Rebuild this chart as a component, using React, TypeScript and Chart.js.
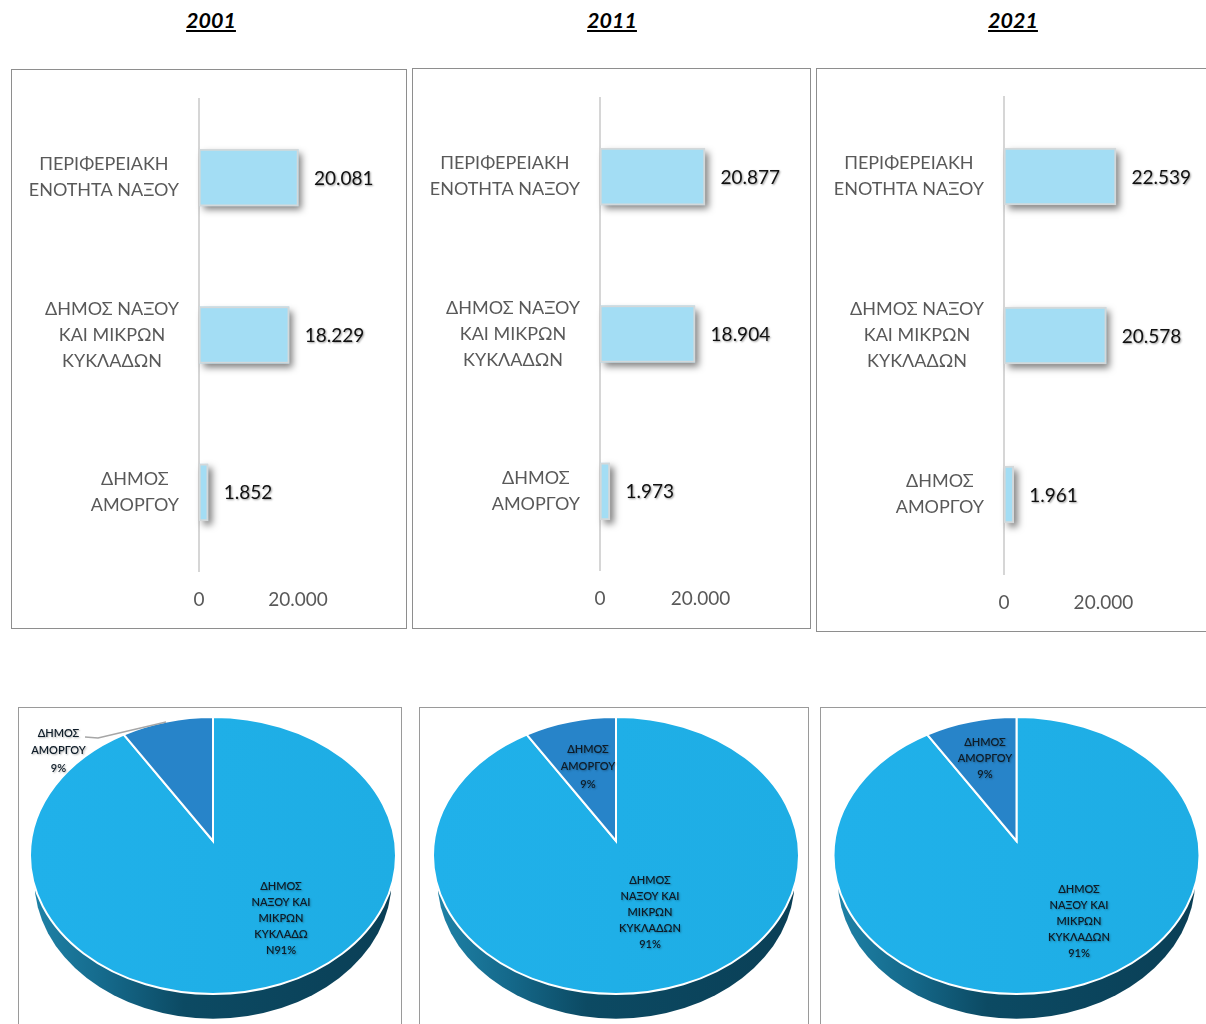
import React, { useEffect, useRef } from "react";
import { Chart, registerables } from "chart.js";

Chart.register(...registerables);

// ---- data ----
const years = ["2001", "2011", "2021"];
const barCategories = [
  ["ΠΕΡΙΦΕΡΕΙΑΚΗ", "ΕΝΟΤΗΤΑ ΝΑΞΟΥ"],
  ["ΔΗΜΟΣ ΝΑΞΟΥ", "ΚΑΙ ΜΙΚΡΩΝ", "ΚΥΚΛΑΔΩΝ"],
  ["ΔΗΜΟΣ", "ΑΜΟΡΓΟΥ"],
];
const population2001 = [20081, 18229, 1852];
const population2011 = [20877, 18904, 1973];
const population2021 = [22539, 20578, 1961];
const axisTicks = [0, 20000];
const pieNames = ["ΔΗΜΟΣ ΝΑΞΟΥ ΚΑΙ ΜΙΚΡΩΝ ΚΥΚΛΑΔΩΝ", "ΔΗΜΟΣ ΑΜΟΡΓΟΥ"];
const shares2001 = [91, 9];
const shares2011 = [91, 9];
const shares2021 = [91, 9];
const bigLabel2001 = ["ΔΗΜΟΣ", "ΝΑΞΟΥ ΚΑΙ", "ΜΙΚΡΩΝ", "ΚΥΚΛΑΔΩ", "Ν91%"];
const bigLabelOther = ["ΔΗΜΟΣ", "ΝΑΞΟΥ ΚΑΙ", "ΜΙΚΡΩΝ", "ΚΥΚΛΑΔΩΝ", "91%"];
const smallLabel = ["ΔΗΜΟΣ", "ΑΜΟΡΓΟΥ", "9%"];

// ---- layout ----
const FONT = "Lato, 'Open Sans', sans-serif";
const barLayouts = [
  { left: 11, top: 69, w: 396, h: 560, axisX: 199, plotTop: 99, plotBottom: 571, unit: 99, tickY: 598, values: population2001 },
  { left: 412, top: 68, w: 399, h: 561, axisX: 600, plotTop: 98, plotBottom: 570, unit: 100.6, tickY: 598, values: population2011 },
  { left: 816, top: 68, w: 400, h: 564, axisX: 1004, plotTop: 97, plotBottom: 574, unit: 99.4, tickY: 601, values: population2021 },
];
const pieLayouts = [
  { left: 18, top: 707, w: 384, cx: 213, values: shares2001, big: bigLabel2001, bigX: 281, bigY: 886, smallX: 58.5, smallY: 733, smallStep: 17.5, leader: true },
  { left: 419, top: 707, w: 390, cx: 616, values: shares2011, big: bigLabelOther, bigX: 650, bigY: 880, smallX: 588, smallY: 749, smallStep: 17.5, leader: false },
  { left: 820, top: 707, w: 396, cx: 1016.5, values: shares2021, big: bigLabelOther, bigX: 1079, bigY: 889, smallX: 985, smallY: 742, smallStep: 16, leader: false },
];
const PIE_TOP = 717;
const PIE_BOTTOM = 994;
const PAGE_BOTTOM = 1024;
const ASPECT = 183 / 138.5;
const APEX_SHIFT = 14.5 / 138.5;

const formatThousands = (v: number) => String(v).replace(/\B(?=(\d{3})+$)/g, ".");

function BarPanel({ cfg }: { cfg: (typeof barLayouts)[number] }) {
  const ref = useRef<HTMLCanvasElement>(null);
  useEffect(() => {
    const labelPlugin = {
      id: "barLabels",
      beforeDatasetDraw(chart: any) {
        const c = chart.ctx;
        const bars = chart.getDatasetMeta(0).data;
        c.save();
        c.shadowColor = "rgba(0,0,0,0.5)";
        c.shadowBlur = 7;
        c.shadowOffsetX = 4;
        c.shadowOffsetY = 4;
        c.fillStyle = "#A3DDF4";
        bars.forEach((bar: any) => {
          c.fillRect(bar.base, bar.y - bar.height / 2, bar.x - bar.base, bar.height);
        });
        c.restore();
      },
      afterDatasetsDraw(chart: any) {
        const c = chart.ctx;
        const yScale = chart.scales.y;
        const bars = chart.getDatasetMeta(0).data;
        c.save();
        c.font = `18px ${FONT}`;
        c.textBaseline = "middle";
        // category labels: each block is right aligned to the axis, its lines centred
        barCategories.forEach((lines, i) => {
          const yc = yScale.getPixelForTick(i);
          c.fillStyle = "#595959";
          const widths = lines.map((l) => c.measureText(l).width);
          const blockW = Math.max(...widths);
          const center = chart.chartArea.left - 20 - blockW / 2;
          c.textAlign = "center";
          lines.forEach((l, j) => {
            c.fillText(l, center, yc + (j - (lines.length - 1) / 2) * 26);
          });
        });
        // value labels
        c.font = `19px ${FONT}`;
        c.textAlign = "left";
        c.fillStyle = "#111";
        c.shadowColor = "rgba(0,0,0,0.4)";
        c.shadowBlur = 2;
        c.shadowOffsetX = 1;
        c.shadowOffsetY = 1;
        bars.forEach((bar: any, i: number) => {
          c.fillText(formatThousands(cfg.values[i]), bar.x + 15.5, bar.y + 1);
        });
        c.restore();
      },
    };
    const chart = new Chart(ref.current!, {
      type: "bar",
      data: {
        labels: barCategories as any,
        datasets: [
          {
            data: cfg.values,
            backgroundColor: "#A3DDF4",
            borderColor: "#D3D8DA",
            borderWidth: 2,
            borderSkipped: false,
            barThickness: 57,
          } as any,
        ],
      },
      options: {
        indexAxis: "y",
        animation: false,
        responsive: false,
        events: [],
        layout: {
          padding: {
            top: cfg.plotTop - cfg.top,
            left: 0,
            right: cfg.w - (cfg.axisX - cfg.left) - cfg.unit * 2,
            bottom: cfg.top + cfg.h - cfg.tickY - 20,
          },
        },
        plugins: { legend: { display: false }, title: { display: false }, tooltip: { enabled: false } },
        scales: {
          x: {
            min: 0,
            max: 40000,
            grid: { display: false, drawTicks: false },
            border: { display: false },
            afterBuildTicks: (s: any) => {
              s.ticks = axisTicks.map((value) => ({ value }));
            },
            afterFit: (s: any) => {
              s.height = cfg.tickY + 20 - cfg.plotBottom;
            },
            ticks: {
              color: "#595959",
              font: { family: FONT, size: 19 },
              padding: 17,
              autoSkip: false,
              maxRotation: 0,
              callback: (v: any) => formatThousands(Number(v)),
            },
          },
          y: {
            grid: { display: false, drawTicks: false },
            border: { color: "#D6D6D6", width: 2 },
            ticks: { display: false },
            afterFit: (s: any) => {
              s.width = cfg.axisX - cfg.left;
            },
          },
        },
      } as any,
      plugins: [labelPlugin],
    });
    return () => chart.destroy();
  }, [cfg]);
  return (
    <>
      <div
        style={{
          position: "absolute",
          left: cfg.left,
          top: cfg.top,
          width: cfg.w,
          height: cfg.h,
          boxSizing: "border-box",
          border: "1px solid #8E8E8E",
        }}
      />
      <canvas
        ref={ref}
        width={cfg.w}
        height={cfg.h}
        style={{ position: "absolute", left: cfg.left, top: cfg.top, width: cfg.w, height: cfg.h }}
      />
    </>
  );
}

function PiePanel({ cfg }: { cfg: (typeof pieLayouts)[number] }) {
  const ref = useRef<HTMLCanvasElement>(null);
  const h = PAGE_BOTTOM - cfg.top + 4;
  useEffect(() => {
    const piePlugin = {
      id: "pie3d",
      beforeDatasetDraw(chart: any) {
        const c = chart.ctx;
        const arcs = chart.getDatasetMeta(0).data;
        const cx = arcs[0].x;
        const cy = arcs[0].y;
        const ry = arcs[0].outerRadius;
        const rx = ry * ASPECT;
        const k = APEX_SHIFT;
        const apexY = cy - k * ry;
        // side wall
        c.save();
        const g = c.createLinearGradient(cx - rx, 0, cx + rx, 0);
        g.addColorStop(0, "#1F83A8");
        g.addColorStop(0.2, "#156A8C");
        g.addColorStop(0.42, "#0C4A63");
        g.addColorStop(1, "#0A3F56");
        c.fillStyle = g;
        c.beginPath();
        c.ellipse(cx, cy + ry * 0.178, ry * 1.2895, ry, 0, 0, Math.PI * 2);
        c.fill();
        c.restore();
        // top face from the library's arc angles
        const phi = (theta: number) => {
          const cs = Math.cos(theta);
          const t = -k * cs + Math.sqrt(k * k * cs * cs - k * k + 1);
          const nx = t * Math.sin(theta);
          const ny = -k - t * cs;
          return Math.atan2(ny, nx);
        };
        const fills = [null, "#2784C9"];
        arcs.forEach((arc: any, i: number) => {
          const a = phi(arc.startAngle + Math.PI / 2);
          const b = phi(arc.endAngle + Math.PI / 2);
          c.save();
          c.beginPath();
          c.moveTo(cx, apexY);
          c.lineTo(cx + rx * Math.cos(a), cy + ry * Math.sin(a));
          c.ellipse(cx, cy, rx, ry, 0, a, b, false);
          c.closePath();
          if (fills[i]) {
            c.fillStyle = fills[i];
          } else {
            const gf = c.createLinearGradient(cx - rx, 0, cx + rx, 0);
            gf.addColorStop(0, "#20B1EA");
            gf.addColorStop(1, "#1EADE4");
            c.fillStyle = gf;
          }
          c.fill();
          c.strokeStyle = "#FFFFFF";
          c.lineWidth = 2;
          c.stroke();
          c.restore();
        });
        return false;
      },
      afterDatasetsDraw(chart: any) {
        const c = chart.ctx;
        const ox = -cfg.left;
        const oy = -cfg.top;
        c.save();
        if (cfg.leader) {
          c.strokeStyle = "#A6A6A6";
          c.lineWidth = 1.4;
          c.beginPath();
          c.moveTo(85 + ox, 737 + oy);
          c.lineTo(98 + ox, 738 + oy);
          c.lineTo(166 + ox, 722 + oy);
          c.stroke();
        }
        c.font = `600 11px ${FONT}`;
        c.textAlign = "center";
        c.textBaseline = "middle";
        c.fillStyle = "#0E1C28";
        c.shadowColor = "rgba(0,0,0,0.3)";
        c.shadowBlur = 2;
        c.shadowOffsetX = 1;
        c.shadowOffsetY = 1;
        cfg.big.forEach((l, j) => c.fillText(l, cfg.bigX + ox, cfg.bigY + j * 16.2 + oy));
        smallLabel.forEach((l, j) => c.fillText(l, cfg.smallX + ox, cfg.smallY + j * cfg.smallStep + oy));
        c.restore();
      },
    };
    const centerInCanvas = cfg.cx - cfg.left;
    const chart = new Chart(ref.current!, {
      type: "pie",
      data: {
        labels: pieNames,
        datasets: [{ data: cfg.values, borderWidth: 0 }],
      },
      options: {
        animation: false,
        responsive: false,
        events: [],
        layout: {
          padding: {
            top: PIE_TOP - cfg.top,
            bottom: h - (PIE_BOTTOM - cfg.top),
            left: Math.max(0, 2 * centerInCanvas - cfg.w),
            right: Math.max(0, cfg.w - 2 * centerInCanvas),
          },
        },
        plugins: { legend: { display: false }, title: { display: false }, tooltip: { enabled: false } },
      } as any,
      plugins: [piePlugin],
    });
    return () => chart.destroy();
  }, [cfg, h]);
  return (
    <>
      <div
        style={{
          position: "absolute",
          left: cfg.left,
          top: cfg.top,
          width: cfg.w,
          height: h,
          boxSizing: "border-box",
          border: "1px solid #9A9A9A",
        }}
      />
      <canvas
        ref={ref}
        width={cfg.w}
        height={h}
        style={{ position: "absolute", left: cfg.left, top: cfg.top, width: cfg.w, height: h }}
      />
    </>
  );
}

const titleCenters = [211, 612, 1013];

export default function App() {
  useEffect(() => {
    document.body.style.margin = "0";
    document.body.style.background = "#fff";
  }, []);
  return (
    <div style={{ position: "relative", width: 1206, height: 1024, overflow: "hidden", background: "#fff" }}>
      {years.map((y, i) => (
        <div
          key={y}
          style={{
            position: "absolute",
            left: titleCenters[i] - 60,
            width: 120,
            top: 7,
            textAlign: "center",
            font: `italic bold 21.5px ${FONT}`,
            textDecoration: "underline",
            color: "#000",
          }}
        >
          {y}
        </div>
      ))}
      {barLayouts.map((cfg, i) => (
        <BarPanel key={i} cfg={cfg} />
      ))}
      {pieLayouts.map((cfg, i) => (
        <PiePanel key={i} cfg={cfg} />
      ))}
    </div>
  );
}
